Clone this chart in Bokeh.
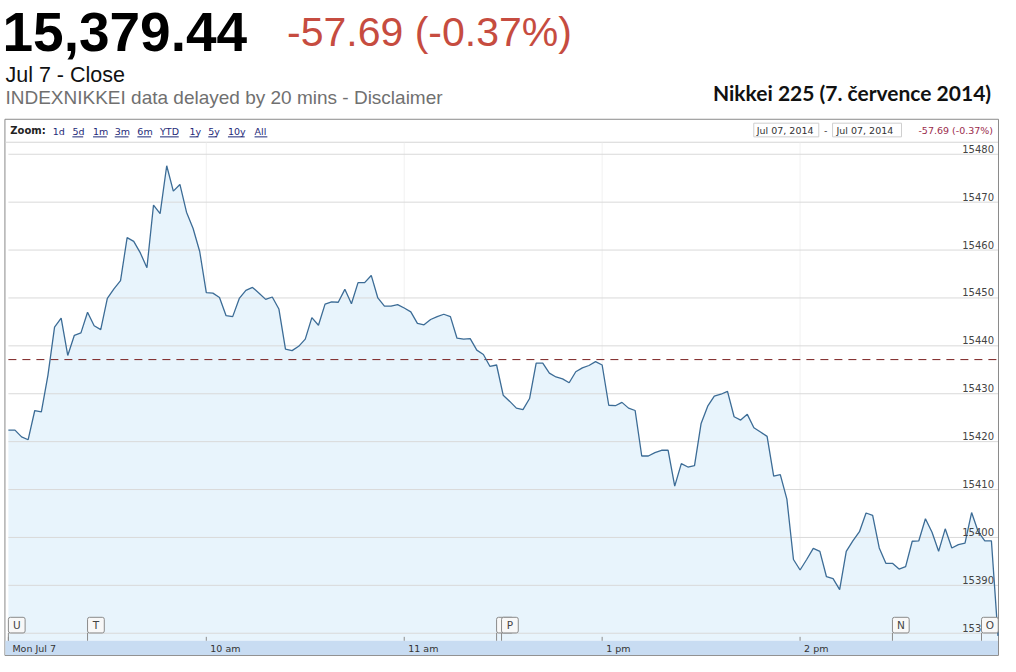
from bokeh.plotting import figure
from bokeh.models import Range1d
from bokeh.core.properties import value
from bokeh.embed import file_html
from bokeh.resources import INLINE

# ---------------- data ----------------
minutes = list(range(0, 301, 2))          # trading minutes after 9:00 (lunch break removed)
index_values = [
    15422.4, 15422.4, 15421.0, 15420.4, 15426.5, 15426.2, 15433.9, 15443.9, 15445.8, 15438.0,
    15442.2, 15442.7, 15447.0, 15444.2, 15443.4, 15449.9, 15451.9, 15453.6, 15462.6, 15461.8,
    15459.4, 15456.3, 15469.4, 15467.6, 15477.6, 15472.3, 15473.7, 15467.9, 15464.5, 15459.7,
    15451.1, 15451.0, 15450.1, 15446.3, 15446.1, 15449.9, 15451.6, 15452.2, 15451.0, 15449.7,
    15450.2, 15447.7, 15439.3, 15439.0, 15439.9, 15441.4, 15445.9, 15444.3, 15448.7, 15449.2,
    15449.1, 15451.8, 15448.8, 15453.2, 15453.2, 15454.7, 15450.0, 15448.3, 15448.3, 15448.6,
    15447.9, 15447.1, 15444.7, 15444.4, 15445.5, 15446.1, 15446.6, 15446.1, 15441.6, 15441.4,
    15441.5, 15439.1, 15438.2, 15435.7, 15436.0, 15429.7, 15428.4, 15427.0, 15426.7, 15429.0,
    15436.4, 15436.4, 15434.3, 15433.5, 15433.1, 15432.3, 15434.6, 15435.4, 15435.9, 15436.7,
    15436.0, 15427.6, 15427.5, 15428.2, 15427.0, 15426.5, 15417.0, 15417.0, 15417.7, 15418.2,
    15418.2, 15410.7, 15415.4, 15414.7, 15415.0, 15423.8, 15427.4, 15429.5, 15429.9, 15430.5,
    15425.2, 15424.5, 15425.7, 15422.9, 15422.0, 15421.1, 15412.8, 15413.1, 15408.0, 15395.4,
    15393.2, 15395.4, 15397.7, 15397.1, 15391.8, 15391.4, 15389.1, 15397.1, 15399.3, 15401.2,
    15405.1, 15404.6, 15397.8, 15394.6, 15394.6, 15393.4, 15393.9, 15399.2, 15399.3, 15403.9,
    15401.1, 15397.1, 15401.8, 15397.8, 15398.5, 15398.8, 15405.2, 15401.2, 15399.3, 15399.3,
    15379.44,
]
prev_close = 15437.13
y_ticks = [15380, 15390, 15400, 15410, 15420, 15430, 15440, 15450, 15460, 15470, 15480]
x_tick_minutes = [0, 60, 120, 180, 240]
x_tick_labels = ["Mon Jul 7", "10 am", "11 am", "1 pm", "2 pm"]
flag_minutes = [0, 24, 148, 149.5, 268, 295]
flag_letters = ["U", "T", "V", "P", "N", "O"]
zoom_links = ["1d", "5d", "1m", "3m", "6m", "YTD", "1y", "5y", "10y", "All"]
zoom_link_x = [53, 73, 94, 116, 139, 162, 192, 211, 231, 258]
zoom_link_w = [11, 11, 14, 14, 14, 19, 9, 9, 17, 13]

head_price = "15,379.44"
head_change = "-57.69 (-0.37%)"
head_date = "Jul 7 - Close"
head_note = "INDEXNIKKEI data delayed by 20 mins - Disclaimer"
head_title = "Nikkei 225 (7. července 2014)"
range_date = "Jul 07, 2014"

# ---------------- geometry (reference pixels -> data) ----------------
PX_PER_MIN = 3.35
X_LEFT = 8.0
PX_PER_PT = 4.9
Y_REF_PX = 157.3
Y_REF_VAL = 15480.0
SX = 0.9847
SY = 0.9775
W, H = 1000, 656
MID = 0.35   # cap-centre above baseline, in em


def RX(rx):
    return (rx - X_LEFT) / PX_PER_MIN


def RY(ry):
    return Y_REF_VAL - (ry - Y_REF_PX) / PX_PER_PT


p = figure(width=W, height=H, output_backend="svg", toolbar_location=None,
           x_range=Range1d(RX(0), RX(W / SX)),
           y_range=Range1d(RY(H / SY), RY(0)),
           x_axis_location=None, y_axis_location=None, title=None, min_border=0)
p.grid.grid_line_color = None
p.outline_line_color = None
p.background_fill_color = "white"
p.border_fill_color = "white"

SANS = value("Liberation Sans")
VERD = value("DejaVu Sans")


def txt(rx, base_ry, text, size, font, **kw):
    p.text(x=[RX(rx)], y=[RY(base_ry - MID * size / SY)], text=[text], text_font=font,
           text_font_size=f"{size}px", text_baseline="middle", **kw)


# ---------------- header ----------------
txt(2, 52, head_price, 55, SANS, text_font_style="bold", text_color="#000000")
txt(291, 47, head_change, 41, SANS, text_color="#c64c40")
txt(5, 84, head_date, 21.5, SANS, text_color="#111111")
txt(5, 106, head_note, 19, SANS, text_color="#707070")
txt(1006, 102, head_title, 21, value("Lato"), text_font_style="bold", text_color="#111111",
    text_align="right")

# ---------------- chart box ----------------
p.quad(left=[RX(4.5)], right=[RX(1013.5)], top=[RY(121.5)], bottom=[RY(670)],
       fill_color="white", line_color="#8a8a8a", line_width=1)
p.segment(x0=[RX(5)], y0=[RY(145)], x1=[RX(1013)], y1=[RY(145)], line_color="#d6d6d6", line_width=1)

# zoom bar
txt(10, 137, "Zoom:", 10, VERD, text_font_style="bold", text_color="#222222")
zy = RY(137 - MID * 9.5 / SY)
p.text(x=[RX(v) for v in zoom_link_x], y=[zy] * len(zoom_links), text=zoom_links, text_font=VERD,
       text_font_size="9.5px", text_color="#1e2a78", text_baseline="middle")
p.segment(x0=[RX(v) for v in zoom_link_x[1:]], y0=[RY(139.5)] * (len(zoom_links) - 1),
          x1=[RX(v + w) for v, w in zip(zoom_link_x[1:], zoom_link_w[1:])],
          y1=[RY(139.5)] * (len(zoom_links) - 1), line_color="#1e2a78", line_width=1)

# date range boxes
p.quad(left=[RX(765), RX(845)], right=[RX(831), RX(915)], top=[RY(125.5), RY(125.5)],
       bottom=[RY(139.5), RY(139.5)], fill_color="white", line_color="#cfcfcf", line_width=1)
txt(768, 136.5, range_date, 9.5, VERD, text_color="#333333")
txt(849, 136.5, range_date, 9.5, VERD, text_color="#333333")
txt(838, 136.5, "-", 9.5, VERD, text_color="#333333", text_align="center")
txt(1008, 136.5, head_change, 9.5, VERD, text_color="#9b2c4c", text_align="right")

# ---------------- plot area ----------------
base_val = RY(655)
p.segment(x0=x_tick_minutes[1:], y0=[base_val] * 4, x1=x_tick_minutes[1:], y1=[RY(145.5)] * 4,
          line_color="#f1f1f1", line_width=1)
p.varea(x=minutes, y1=base_val, y2=index_values, fill_color="#e8f4fc")
p.segment(x0=[0] * len(y_ticks), y0=y_ticks, x1=[300] * len(y_ticks), y1=y_ticks,
          line_color="#d9d9d9", line_width=1)
p.segment(x0=[0], y0=[prev_close], x1=[300], y1=[prev_close], line_color="#7a1f1f",
          line_width=1, line_dash="8 6")
p.line(x=minutes, y=index_values, line_color="#3c6c96", line_width=1.3)

lab_shift = (2 + MID * 10 / SY) / PX_PER_PT
p.text(x=[RX(1009)] * len(y_ticks), y=[t + lab_shift for t in y_ticks], text=[str(t) for t in y_ticks],
       text_font=VERD, text_font_size="10px", text_color="#444444", text_align="right",
       text_baseline="middle")

# ---------------- bottom time axis band ----------------
p.quad(left=[RX(5)], right=[RX(1013)], top=[base_val], bottom=[RY(669.5)],
       fill_color="#c8dcf2", line_color=None)
p.segment(x0=x_tick_minutes, y0=[base_val] * 5, x1=x_tick_minutes, y1=[RY(651)] * 5,
          line_color="#8c8c8c", line_width=1)
p.text(x=x_tick_minutes, y=[RY(666 - MID * 9.5 / SY)] * 5, text=x_tick_labels, text_font=VERD,
       x_offset=4, text_font_size="9.5px", text_color="#333333", text_baseline="middle")

# ---------------- event flags ----------------
flag_w = 17 / PX_PER_MIN
for m, letter in zip(flag_minutes, flag_letters):
    p.segment(x0=[m], y0=[RY(647)], x1=[m], y1=[base_val], line_color="#8a8a8a", line_width=1)
    p.quad(left=[m], right=[m + flag_w], top=[RY(631)], bottom=[RY(647)],
           fill_color="#f8f8f8", line_color="#8a8a8a", line_width=1, border_radius=2)
    p.text(x=[m + flag_w / 2], y=[RY(639)], text=[letter], text_font=VERD, text_align="center",
           text_font_size="10.5px", text_color="#444444", text_baseline="middle")

open("out.html", "w").write(file_html(p, INLINE))
